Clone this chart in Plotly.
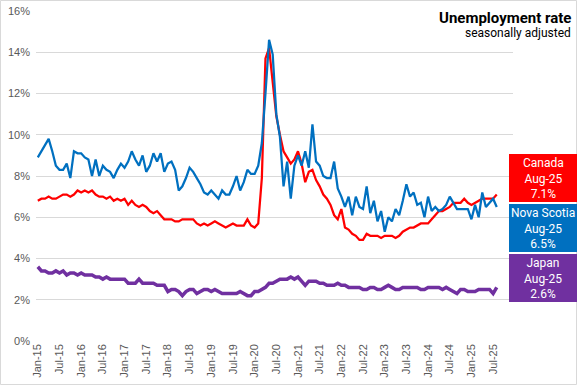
import pandas as pd
import plotly.graph_objects as go

# Categories: monthly, Jan-15 .. Dec-25 (axis), data through Aug-25
months = [d.strftime("%b-%y") for d in pd.date_range("2015-01-01", "2025-12-01", freq="MS")]
data_months = months[:128]
tick_labels = [m for m in months if m.startswith("Jan") or m.startswith("Jul")][:22]

canada = [
    6.8, 6.9, 6.9, 7.0, 6.9, 6.9, 7.0, 7.1, 7.1, 7.0, 7.1, 7.3,
    7.2, 7.3, 7.2, 7.3, 7.1, 7.0, 7.0, 6.9, 7.0, 6.8, 6.9, 6.8,
    6.9, 6.6, 6.8, 6.6, 6.5, 6.6, 6.5, 6.3, 6.2, 6.3, 6.1, 5.9,
    5.9, 5.9, 5.8, 5.8, 5.9, 5.9, 5.9, 5.9, 5.7, 5.6, 5.7, 5.6,
    5.7, 5.8, 5.7, 5.6, 5.5, 5.6, 5.7, 5.6, 5.6, 5.6, 5.9, 5.6,
    5.5, 5.7, 7.9, 13.7, 14.2, 12.5, 10.9, 10.0, 9.2, 8.9, 8.6, 8.8,
    9.2, 8.6, 7.7, 8.2, 8.3, 7.8, 7.5, 7.1, 6.9, 6.6, 6.1, 5.9,
    6.4, 5.5, 5.4, 5.2, 5.1, 4.9, 4.9, 5.2, 5.1, 5.1, 5.1, 5.0,
    5.1, 5.1, 5.1, 5.0, 5.1, 5.3, 5.4, 5.5, 5.5, 5.6, 5.7, 5.7,
    5.7, 5.9, 6.1, 6.3, 6.3, 6.4, 6.5, 6.7, 6.7, 6.7, 6.9, 6.7,
    6.6, 6.7, 6.8, 6.9, 6.9, 6.9, 6.9, 7.1,
]

nova_scotia = [
    8.9, 9.2, 9.5, 9.8, 9.2, 8.5, 8.3, 8.3, 8.6, 7.9, 9.2, 9.1,
    9.1, 8.9, 8.8, 8.0, 8.8, 8.0, 8.5, 8.3, 8.2, 7.9, 8.3, 8.6,
    8.4, 8.7, 9.2, 8.8, 8.5, 9.0, 8.2, 8.5, 9.1, 8.7, 9.1, 8.2,
    8.6, 8.7, 8.3, 7.3, 7.5, 7.9, 8.4, 8.2, 7.9, 7.6, 7.2, 7.1,
    7.3, 7.1, 6.9, 7.3, 7.1, 7.1, 7.5, 8.0, 7.3, 7.7, 8.3, 8.1,
    8.1, 8.5, 9.6, 12.0, 14.6, 13.9, 11.0, 9.9, 7.5, 8.7, 6.9, 8.5,
    9.0, 8.5, 9.2, 8.4, 10.5, 8.7, 8.5, 8.0, 7.9, 7.9, 8.7, 7.4,
    7.0, 6.5, 7.0, 6.1, 7.0, 6.5, 6.4, 7.5, 6.2, 6.8, 5.8, 6.3,
    5.3, 6.0, 5.8, 6.4, 6.1, 6.8, 7.6, 7.0, 7.2, 6.6, 6.7, 6.0,
    7.0, 6.3, 6.5, 6.3, 6.4, 6.6, 7.0, 6.7, 6.4, 6.4, 6.4, 6.4,
    5.9, 6.6, 6.0, 7.2, 6.5, 6.7, 6.9, 6.5,
]

japan = [
    3.6, 3.4, 3.4, 3.3, 3.3, 3.4, 3.3, 3.4, 3.2, 3.3, 3.3, 3.2,
    3.3, 3.2, 3.2, 3.2, 3.1, 3.1, 3.0, 3.1, 3.0, 3.0, 3.0, 3.0,
    3.0, 2.8, 2.8, 2.8, 3.0, 2.8, 2.8, 2.8, 2.8, 2.7, 2.7, 2.7,
    2.4, 2.5, 2.5, 2.4, 2.2, 2.4, 2.5, 2.5, 2.3, 2.4, 2.5, 2.5,
    2.4, 2.5, 2.4, 2.3, 2.3, 2.3, 2.3, 2.3, 2.4, 2.3, 2.2, 2.2,
    2.4, 2.4, 2.5, 2.6, 2.8, 2.8, 2.9, 3.0, 3.0, 3.0, 3.1, 3.0,
    3.1, 2.9, 2.7, 2.9, 2.9, 2.9, 2.8, 2.8, 2.7, 2.7, 2.7, 2.8,
    2.7, 2.7, 2.6, 2.6, 2.6, 2.6, 2.5, 2.5, 2.6, 2.6, 2.5, 2.5,
    2.6, 2.7, 2.6, 2.5, 2.5, 2.6, 2.6, 2.6, 2.6, 2.6, 2.5, 2.5,
    2.6, 2.6, 2.6, 2.6, 2.5, 2.6, 2.5, 2.4, 2.3, 2.5, 2.5, 2.4,
    2.4, 2.4, 2.5, 2.5, 2.5, 2.5, 2.3, 2.6,
]

series_names = ["Canada", "Nova Scotia", "Japan"]
series_colors = ["#ff0000", "#0070c0", "#7030a0"]
series_widths = [2.25, 2.25, 3.5]
y_ticks = [0, 2, 4, 6, 8, 10, 12, 14, 16]

fig = go.Figure()
for name, vals, col, w in zip(series_names, [canada, nova_scotia, japan], series_colors, series_widths):
    fig.add_trace(go.Scatter(x=data_months, y=vals, mode="lines", name=name,
                             line=dict(color=col, width=w), showlegend=False, hoverinfo="skip"))

W, H = 577, 385
L, R, T, B = 36, 64, 11, 44
pw, ph = W - L - R, H - T - B

def px_x(x):
    return (x - L) / pw

def px_y(y):
    return (H - B - y) / ph

fig.update_layout(
    width=W, height=H, autosize=False,
    margin=dict(l=L, r=R, t=T, b=B, pad=0),
    paper_bgcolor="white", plot_bgcolor="white",
    font=dict(family="Liberation Sans, Arial, sans-serif", color="#595959"),
    xaxis=dict(type="category", categoryorder="array", categoryarray=months,
               range=[-0.5, len(months) - 0.5], tickmode="array", tickvals=tick_labels,
               ticktext=tick_labels, tickangle=-90, tickfont=dict(size=11, color="#595959"),
               showgrid=False, showline=False, zeroline=False, ticks="", automargin=False),
    yaxis=dict(range=[0, 16], tickmode="array", tickvals=y_ticks,
               ticktext=[f"{v}%" for v in y_ticks], tickfont=dict(size=11, color="#595959"),
               showgrid=True, gridcolor="#d9d9d9", gridwidth=1, zeroline=False,
               showline=False, ticks="", ticklen=0, automargin=False, ticklabelstandoff=5),
)

# Chart border
fig.add_shape(type="rect", xref="paper", yref="paper",
              x0=px_x(0.5), x1=px_x(W - 0.5), y0=px_y(H - 0.5), y1=px_y(0.5),
              line=dict(color="#d9d9d9", width=1), fillcolor="rgba(0,0,0,0)", layer="below")

# Title
fig.add_annotation(x=px_x(573), y=px_y(18), xref="paper", yref="paper", xanchor="right", yanchor="middle",
                   text="<b>Unemployment rate</b>", showarrow=False,
                   font=dict(family="Roboto, sans-serif", size=15, color="#000000"))
fig.add_annotation(x=px_x(573), y=px_y(33), xref="paper", yref="paper", xanchor="right", yanchor="middle",
                   text="seasonally adjusted", showarrow=False,
                   font=dict(family="Roboto, sans-serif", size=12, color="#000000"))

# Label boxes
box_tops = [154, 204, 254]
box_h = 48
for name, vals, col, top in zip(series_names, [canada, nova_scotia, japan], series_colors, box_tops):
    fig.add_shape(type="rect", xref="paper", yref="paper",
                  x0=px_x(509), x1=px_x(577), y0=px_y(top + box_h), y1=px_y(top),
                  line=dict(width=0), fillcolor=col, layer="above")
    fig.add_annotation(x=px_x(543), y=px_y(top + box_h / 2), xref="paper", yref="paper",
                       xanchor="center", yanchor="middle", showarrow=False,
                       text=f"{name}<br>{data_months[-1]}<br>{vals[-1]:.1f}%",
                       font=dict(family="Roboto, sans-serif", size=12, color="white"))

fig.write_html("out.html", config={"displayModeBar": False},
               post_script="document.body.style.margin='0';document.body.style.padding='0';")
